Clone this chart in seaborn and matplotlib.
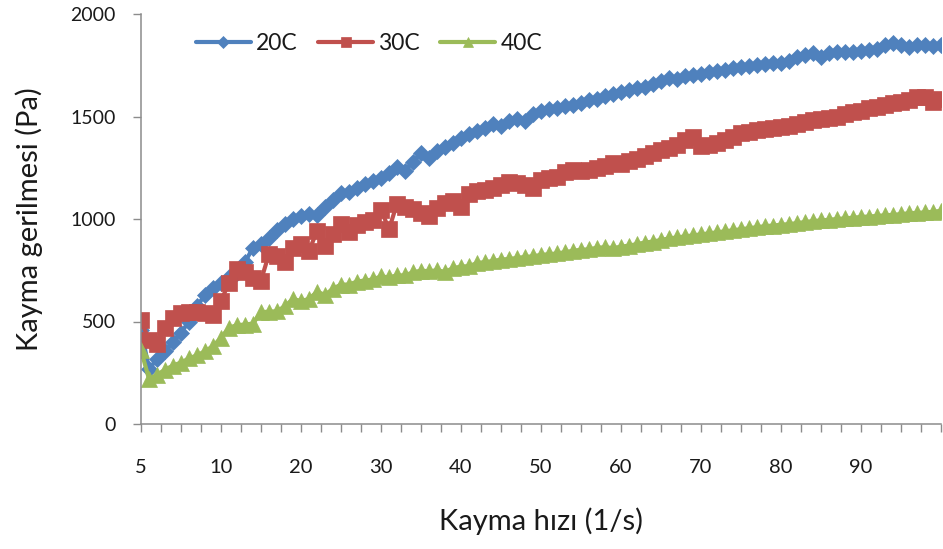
import numpy as np
import pandas as pd
import matplotlib
matplotlib.use("Agg")
import matplotlib.pyplot as plt
import seaborn as sns

# shear rate categories (Excel category axis: equally spaced)
rate = [5.0, 5.5, 6.0, 6.5, 7.0, 7.5, 8.0, 8.5, 9.0, 9.5] + list(range(10, 101))

s20 = [460, 270, 315, 355, 400, 445, 500, 575, 630, 665,
       690, 715, 735, 790, 860, 880, 905, 945, 975, 1000,
       1015, 1025, 1020, 1060, 1095, 1125, 1130, 1150, 1170, 1185,
       1200, 1225, 1255, 1235, 1280, 1320, 1300, 1330, 1350, 1370,
       1395, 1415, 1430, 1445, 1465, 1455, 1480, 1490, 1478, 1510,
       1525, 1535, 1540, 1550, 1555, 1565, 1580, 1585, 1600, 1610,
       1620, 1630, 1640, 1645, 1660, 1672, 1690, 1685, 1698, 1702,
       1708, 1715, 1720, 1728, 1735, 1742, 1748, 1752, 1758, 1760,
       1763, 1770, 1790, 1802, 1810, 1792, 1808, 1815, 1815, 1817,
       1820, 1822, 1828, 1850, 1860, 1848, 1840, 1848, 1850, 1845,
       1850]

s30 = [505, 410, 390, 470, 515, 540, 545, 545, 542, 530,
       600, 690, 755, 740, 710, 700, 830, 820, 790, 860,
       880, 845, 940, 870, 925, 975, 935, 970, 985, 995,
       1045, 950, 1075, 1060, 1050, 1030, 1015, 1055, 1080, 1090,
       1060, 1120, 1135, 1140, 1150, 1165, 1180, 1175, 1165, 1150,
       1190, 1200, 1205, 1230, 1240, 1232, 1240, 1250, 1260, 1275,
       1270, 1285, 1295, 1305, 1322, 1335, 1345, 1360, 1385, 1400,
       1355, 1360, 1370, 1385, 1400, 1418, 1425, 1432, 1440, 1445,
       1448, 1455, 1465, 1475, 1482, 1488, 1495, 1500, 1512, 1520,
       1528, 1540, 1548, 1555, 1565, 1572, 1580, 1595, 1595, 1570,
       1585]

s40 = [360, 220, 240, 265, 285, 300, 320, 335, 355, 380,
       420, 470, 482, 485, 490, 545, 548, 550, 575, 610,
       600, 610, 645, 630, 660, 680, 680, 695, 700, 705,
       720, 715, 725, 725, 740, 748, 745, 750, 742, 760,
       768, 770, 785, 790, 795, 802, 805, 810, 815, 818,
       825, 828, 832, 838, 845, 850, 852, 860, 862, 858,
       865, 870, 878, 885, 890, 898, 905, 910, 915, 920,
       925, 930, 935, 940, 945, 950, 955, 960, 965, 968,
       972, 975, 980, 985, 990, 993, 996, 1000, 1003, 1006,
       1010, 1012, 1015, 1018, 1020, 1024, 1028, 1030, 1032, 1035,
       1040]

series_names = ["20C", "30C", "40C"]
series_values = [s20, s30, s40]
colors = ["#4F81BD", "#C0504D", "#9BBB59"]
markers = ["D", "s", "^"]
msizes = [8.5, 11.0, 11.0]

x_tick_labels = ["5", "10", "20", "30", "40", "50", "60", "70", "80", "90"]
y_ticks = [0, 500, 1000, 1500, 2000]

sns.set_theme(style="white")
plt.rcParams["font.family"] = ["Lato", "DejaVu Sans"]

fig = plt.figure(figsize=(9.43, 5.49), dpi=100)
ax = fig.add_axes([141 / 943, 125 / 549, 800 / 943, 410 / 549])

pos = np.arange(len(rate))
for name, vals, c, m, ms in zip(series_names, series_values, colors, markers, msizes):
    df = pd.DataFrame({"pos": pos, "val": vals})
    sns.lineplot(data=df, x="pos", y="val", ax=ax, color=c, linewidth=3.0,
                 marker=m, markersize=ms, markeredgecolor=c, markeredgewidth=0.5,
                 label=name, estimator=None, errorbar=None)

ax.set_xlim(0, len(rate) - 1)
ax.set_ylim(0, 2000)

label_pos = [rate.index(float(t)) for t in x_tick_labels]
ax.set_xticks(label_pos)
ax.set_xticklabels(x_tick_labels)
ax.set_xticks(np.arange(0, len(rate), 2.5), minor=True)
ax.set_yticks(y_ticks)
ax.set_yticklabels([str(v) for v in y_ticks])

axis_col = "#8C8C8C"
for sp in ["top", "right"]:
    ax.spines[sp].set_visible(False)
for sp in ["left", "bottom"]:
    ax.spines[sp].set_color(axis_col)
    ax.spines[sp].set_linewidth(1.1)

txt_col = "#1a1a1a"
ax.tick_params(axis="x", which="both", direction="out", length=6, width=1.0,
               color=axis_col, bottom=True, pad=19, labelsize=14.5, labelcolor=txt_col)
ax.tick_params(axis="y", which="both", direction="out", length=6, width=1.0,
               color=axis_col, left=True, pad=12, labelsize=14, labelcolor=txt_col)

ax.set_xlabel("Kayma hızı (1/s)", fontsize=21, color=txt_col, labelpad=23)
ax.set_ylabel("Kayma gerilmesi (Pa)", fontsize=21, color=txt_col, labelpad=20)
ax.grid(False)

leg = ax.legend(loc="center", bbox_to_anchor=(369 / 943, 1 - 44 / 549),
                bbox_transform=fig.transFigure, ncol=3, frameon=False,
                fontsize=16.5, handlelength=2.4, handletextpad=0.22,
                columnspacing=0.9, borderpad=0, markerscale=0.7)
for t in leg.get_texts():
    t.set_color(txt_col)

fig.savefig("out.png", dpi=100)
